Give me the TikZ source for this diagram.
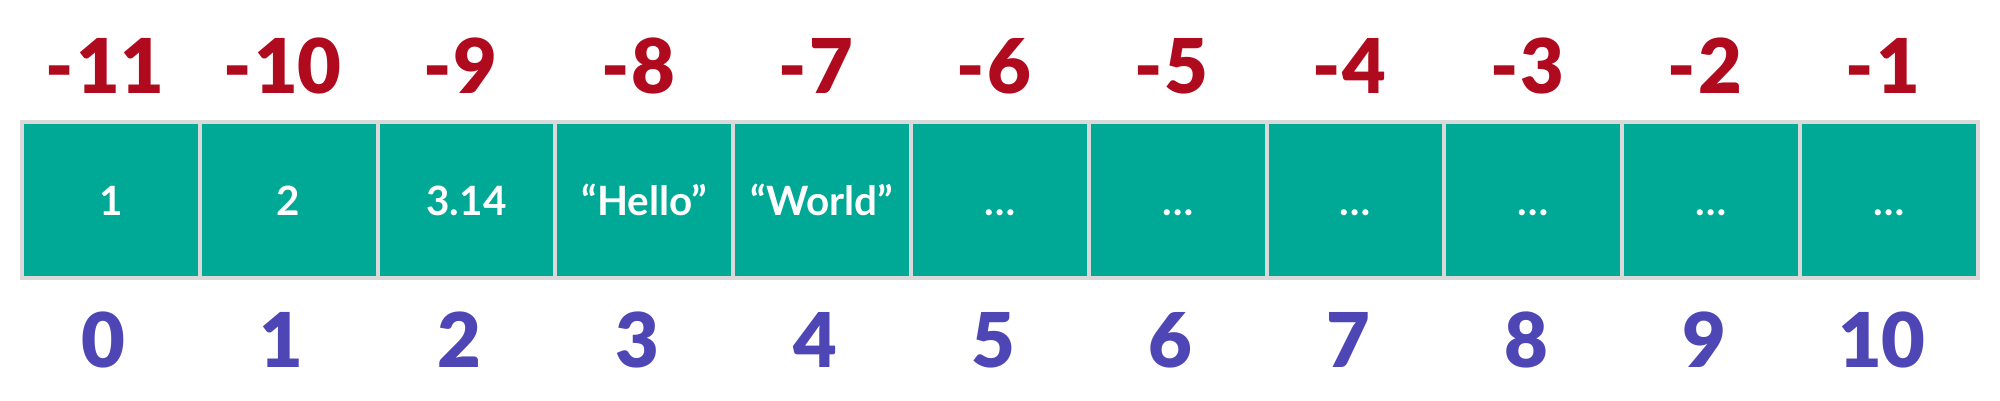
\documentclass[tikz,border=0pt]{standalone}
\usepackage{fontspec}
\setmainfont{Lato}[Numbers=Lining]
\newfontfamily\heavyfont{Lato}[UprightFont={* Black}, Numbers=Lining]
\definecolor{cellteal}{RGB}{0,168,150}
\definecolor{cellgray}{RGB}{217,217,217}
\definecolor{negred}{RGB}{176,10,30}
\definecolor{pospurple}{RGB}{79,70,181}
\tikzset{
  cellbox/.style={draw=cellgray, line width=0.08cm, fill=cellteal, rectangle,
    minimum width=3.556cm, minimum height=3.12cm, inner sep=0pt,
    text=white, font=\bfseries\fontsize{23}{28}\selectfont,
    text height=0.6cm, text depth=0pt},
  idxlabel/.style={inner sep=0pt, font=\heavyfont\fontsize{43}{50}\selectfont,
    text height=1.1cm, text depth=0pt},
  neglabel/.style={idxlabel, text=negred},
  poslabel/.style={idxlabel, text=pospurple}
}
\begin{document}
\begin{tikzpicture}[x=0.02cm,y=-0.02cm]
\useasboundingbox (0,0) rectangle (2000,400);
\foreach \i/\t in {0/1,1/2,2/3.14,3/{“Hello”},4/{“World”},5/…,6/…,7/…,8/…,9/…,10/…}{
  \pgfmathsetmacro\cx{22+177.8*(\i+0.5)}
  \pgfmathtruncatemacro\ng{11-\i}
  \node[cellbox] (c\i) at (\cx,200) {\t};
  \node[neglabel] (n\i) at (\cx-6,65.5) {-\kern0.03em\ng};
  \node[poslabel] (p\i) at (\cx-7,339.5) {\i};
}
\end{tikzpicture}
\end{document}
